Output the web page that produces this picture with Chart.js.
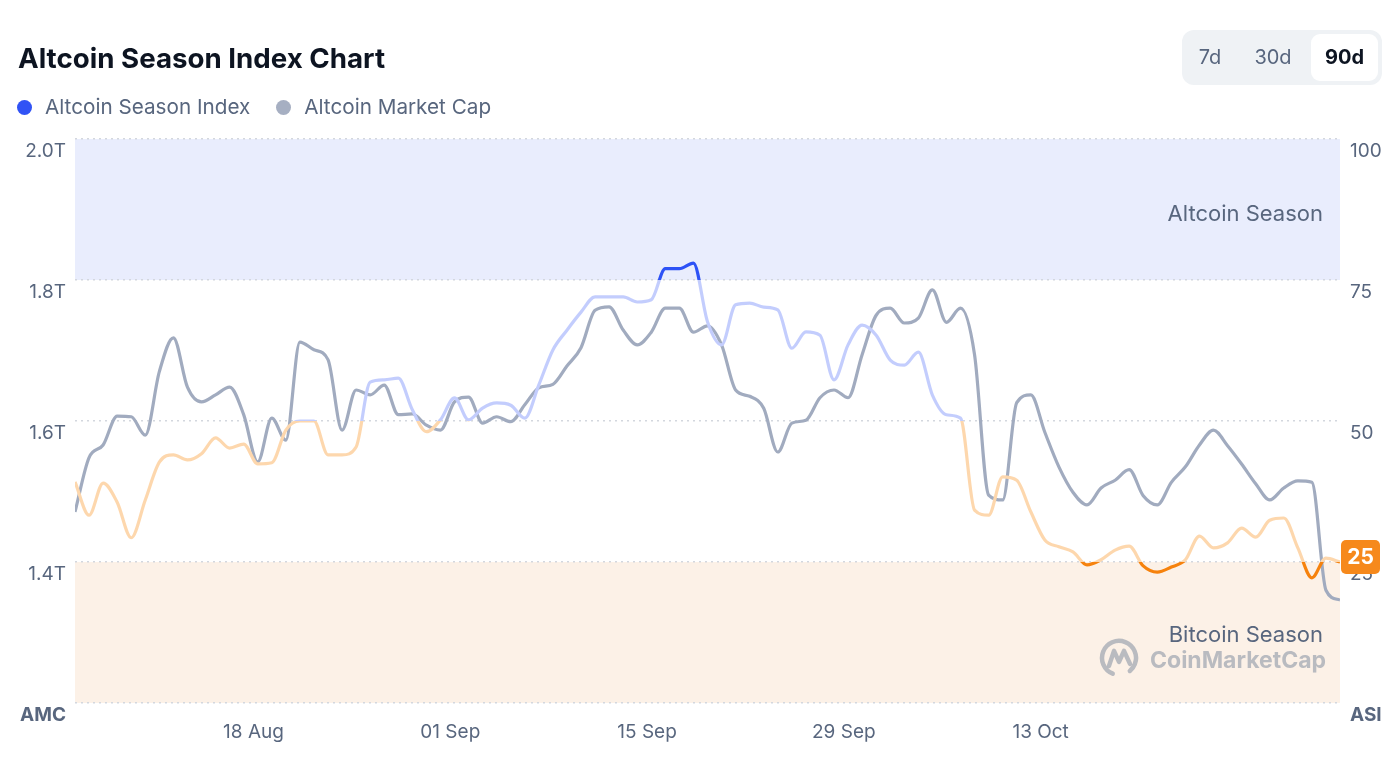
<!DOCTYPE html>
<html>
<head>
<meta charset="utf-8">
<script src="https://cdn.jsdelivr.net/npm/chart.js@4.4.1/dist/chart.umd.min.js"></script>
<style>
  body { margin: 0; background: #fff; font-family: Inter, "Noto Sans", sans-serif; }
  #wrap { position: relative; width: 1400px; height: 780px; overflow: hidden; }
  #chart { position: absolute; left: 0; top: 0; }
  .title { position: absolute; left: 18px; top: 40px; font-size: 27.7px; font-weight: 700; color: #0d1421; line-height: 36px; }
  .legend { position: absolute; left: 17px; top: 94px; display: flex; align-items: center; font-size: 20.7px; color: #58667e; line-height: 26px; }
  .legend .dot { width: 15px; height: 15px; border-radius: 50%; display: inline-block; margin-right: 13px; }
  .legend .item { display: flex; align-items: center; margin-right: 26px; }
  .range { position: absolute; left: 1182px; top: 30px; width: 200px; height: 55px; background: #eff2f5; border-radius: 12px; }
  .range span { position: absolute; top: 0; height: 55px; line-height: 55px; font-size: 20px; color: #58667e; text-align: center; }
  .range .on { top: 4px; height: 47px; line-height: 47px; background: #fff; border-radius: 9px; color: #0d1421; font-weight: 700; }
</style>
</head>
<body>
<div id="wrap">
  <canvas id="chart" width="1400" height="780"></canvas>
  <div class="title">Altcoin Season Index Chart</div>
  <div class="legend">
    <div class="item"><span class="dot" style="background:#3153f5"></span>Altcoin Season Index</div>
    <div class="item"><span class="dot" style="background:#a6afc2"></span>Altcoin Market Cap</div>
  </div>
  <div class="range">
    <span style="left:8px;width:40px">7d</span>
    <span style="left:66px;width:50px">30d</span>
    <span class="on" style="left:129px;width:67px">90d</span>
  </div>
</div>
<script>
// valeurs, un point par jour (90 jours)
const seasonIndex = [
  39.2, 33.3, 39.0, 35.6, 29.3, 36.0, 42.7, 44.0, 43.1, 44.2,
  47.0, 45.2, 45.9, 42.4, 42.6, 48.4, 50.0, 50.0, 44.0, 44.0,
  45.4, 56.9, 57.3, 57.6, 52.0, 48.1, 50.2, 54.1, 50.2, 52.3,
  53.2, 52.8, 50.5, 56.4, 62.6, 66.1, 69.3, 72.0, 72.0, 72.0,
  71.1, 71.5, 77.0, 77.0, 78.0, 67.6, 63.5, 70.6, 70.9, 70.2,
  69.7, 62.9, 65.8, 65.2, 57.3, 63.5, 67.0, 65.2, 60.8, 59.9,
  62.2, 54.6, 51.1, 50.5, 34.2, 33.3, 40.1, 39.5, 33.9, 28.9,
  27.7, 26.8, 24.5, 25.4, 27.1, 27.8, 24.3, 23.2, 24.1, 25.4,
  29.6, 27.5, 28.4, 31.0, 29.4, 32.4, 32.8, 27.5, 22.2, 25.7,
  25
];

// market cap altcoins, en milliers de milliards
const altcoinCap = [
  1.471, 1.548, 1.566, 1.607, 1.606, 1.580, 1.670, 1.718, 1.648, 1.627,
  1.637, 1.648, 1.609, 1.542, 1.604, 1.573, 1.712, 1.701, 1.687, 1.587,
  1.644, 1.637, 1.651, 1.609, 1.610, 1.594, 1.587, 1.627, 1.634, 1.597,
  1.606, 1.599, 1.623, 1.647, 1.652, 1.678, 1.704, 1.757, 1.762, 1.729,
  1.708, 1.726, 1.760, 1.760, 1.726, 1.735, 1.708, 1.644, 1.635, 1.618,
  1.556, 1.597, 1.601, 1.633, 1.644, 1.633, 1.694, 1.750, 1.760, 1.739,
  1.746, 1.786, 1.740, 1.760, 1.694, 1.495, 1.488, 1.626, 1.637, 1.584,
  1.535, 1.499, 1.481, 1.505, 1.516, 1.531, 1.494, 1.481, 1.513, 1.535,
  1.566, 1.587, 1.565, 1.539, 1.511, 1.488, 1.505, 1.515, 1.513, 1.360,
  1.346
];

const dayTicks = [12.7, 26.7, 40.7, 54.7, 68.7];
const dayTickLabels = ['18 Aug', '01 Sep', '15 Sep', '29 Sep', '13 Oct'];

const capTicks = [1.2, 1.4, 1.6, 1.8, 2.0];
const capTickLabels = ['AMC', '1.4T', '1.6T', '1.8T', '2.0T'];
const indexTicks = [0, 25, 50, 75, 100];
const indexTickLabels = ['ASI', '25', '50', '75', '100'];

const seasonBands = [
  { from: 75, to: 100, color: '#e9edfd', label: 'Altcoin Season', labelAt: 86.7 },
  { from: 0, to: 25, color: '#fcf1e7', label: 'Bitcoin Season', labelAt: 11.9 }
];

const TXT = '#58667e';
const DARK_BLUE = '#2d52f6';
const LIGHT_BLUE = '#c3cdfd';
const LIGHT_ORANGE = '#fdd7ad';
const DARK_ORANGE = '#f6820d';

// couleur de la ligne ASI selon la zone (coupure nette à 75 / 50 / 25)
function indexLineColor(context) {
  const chart = context.chart;
  if (!chart.chartArea) return LIGHT_BLUE;
  const y = chart.scales.y2;
  const top = y.getPixelForValue(100);
  const bottom = y.getPixelForValue(0);
  const g = chart.ctx.createLinearGradient(0, top, 0, bottom);
  g.addColorStop(0, DARK_BLUE);
  g.addColorStop(0.25, DARK_BLUE);
  g.addColorStop(0.25, LIGHT_BLUE);
  g.addColorStop(0.5, LIGHT_BLUE);
  g.addColorStop(0.5, LIGHT_ORANGE);
  g.addColorStop(0.75, LIGHT_ORANGE);
  g.addColorStop(0.75, DARK_ORANGE);
  g.addColorStop(1, DARK_ORANGE);
  return g;
}

const bandsPlugin = {
  id: 'bands',
  beforeDraw(chart) {
    const { ctx, chartArea } = chart;
    const y = chart.scales.y2;
    ctx.save();
    seasonBands.forEach(b => {
      const top = y.getPixelForValue(b.to);
      const bottom = y.getPixelForValue(b.from);
      ctx.fillStyle = b.color;
      ctx.fillRect(chartArea.left, top, chartArea.right - chartArea.left, bottom - top);
    });
    ctx.restore();
  },
  beforeDatasetsDraw(chart) {
    const { ctx, chartArea } = chart;
    const y = chart.scales.y2;
    ctx.save();
    ctx.font = '22px Inter, "Noto Sans", sans-serif';
    ctx.fillStyle = TXT;
    ctx.textAlign = 'right';
    ctx.textBaseline = 'middle';
    seasonBands.forEach(b => {
      ctx.fillText(b.label, chartArea.right - 17, y.getPixelForValue(b.labelAt));
    });

    // filigrane CoinMarketCap
    ctx.globalAlpha = 0.75;
    ctx.fillStyle = '#a3a8b3';
    ctx.strokeStyle = '#a3a8b3';
    ctx.font = '700 23px Inter, "Noto Sans", sans-serif';
    ctx.fillText('CoinMarketCap', chartArea.right - 14, y.getPixelForValue(7.5));
    const cx = 1119, cy = y.getPixelForValue(8);
    ctx.lineWidth = 4.5;
    ctx.lineCap = 'round';
    ctx.lineJoin = 'round';
    ctx.beginPath();
    ctx.arc(cx, cy, 17, Math.PI * 0.62, Math.PI * 2.28);
    ctx.stroke();
    ctx.beginPath();
    ctx.moveTo(cx - 10, cy + 8);
    ctx.lineTo(cx - 5, cy - 7);
    ctx.lineTo(cx, cy + 4);
    ctx.lineTo(cx + 5, cy - 7);
    ctx.lineTo(cx + 11, cy + 6);
    ctx.stroke();
    ctx.restore();
  },
  afterDraw(chart) {
    const { ctx, chartArea } = chart;
    const y = chart.scales.y2;
    const last = seasonIndex[seasonIndex.length - 1];
    const py = y.getPixelForValue(last) - 5;
    const x0 = chartArea.right + 1, w = 39, h = 34;
    ctx.save();
    ctx.fillStyle = '#f6891c';
    ctx.beginPath();
    ctx.roundRect(x0, py - h / 2, w, h, 5);
    ctx.fill();
    ctx.fillStyle = '#fff';
    ctx.font = '700 21px Inter, "Noto Sans", sans-serif';
    ctx.textAlign = 'center';
    ctx.textBaseline = 'middle';
    ctx.fillText(String(last), x0 + w / 2, py + 1);
    ctx.restore();
  }
};

const tickFont = { family: 'Inter, "Noto Sans", sans-serif', size: 19 };

new Chart(document.getElementById('chart'), {
  type: 'line',
  data: {
    datasets: [
      {
        label: 'Altcoin Season Index',
        data: seasonIndex.map((v, i) => ({ x: i, y: v })),
        yAxisID: 'y2',
        borderColor: indexLineColor,
        borderWidth: 3.2,
        pointRadius: 0,
        cubicInterpolationMode: 'monotone',
        fill: false
      },
      {
        label: 'Altcoin Market Cap',
        data: altcoinCap.map((v, i) => ({ x: i, y: v })),
        yAxisID: 'y',
        borderColor: '#a1abbf',
        borderWidth: 3.2,
        pointRadius: 0,
        cubicInterpolationMode: 'monotone',
        fill: false
      }
    ]
  },
  options: {
    responsive: false,
    animation: false,
    layout: { padding: { top: 139, left: 0, right: 0, bottom: 0 } },
    plugins: {
      legend: { display: false },
      tooltip: { enabled: false }
    },
    scales: {
      x: {
        type: 'linear',
        min: 0,
        max: seasonIndex.length - 1,
        grid: { display: false, drawTicks: false },
        border: { display: false },
        afterBuildTicks: s => { s.ticks = dayTicks.map(v => ({ value: v })); },
        afterFit: s => { s.height = 77; },
        ticks: {
          autoSkip: false,
          maxRotation: 0,
          padding: 18,
          color: TXT,
          font: tickFont,
          callback: (v, i) => dayTickLabels[i]
        }
      },
      y: {
        position: 'left',
        min: 1.2,
        max: 2.0,
        afterBuildTicks: s => { s.ticks = capTicks.map(v => ({ value: v })); },
        afterFit: s => { s.width = 75; },
        grid: { color: '#d3d7de', lineWidth: 1.5, drawTicks: false },
        border: { display: false, dash: [2, 4] },
        ticks: {
          padding: 9,
          labelOffset: 12,
          color: TXT,
          font: c => (c.index === 0 ? { ...tickFont, weight: '700' } : tickFont),
          callback: (v, i) => capTickLabels[i]
        }
      },
      y2: {
        position: 'right',
        min: 0,
        max: 100,
        afterBuildTicks: s => { s.ticks = indexTicks.map(v => ({ value: v })); },
        afterFit: s => { s.width = 60; },
        grid: { display: false, drawTicks: false },
        border: { display: false },
        ticks: {
          padding: 10,
          labelOffset: 12,
          color: TXT,
          font: c => (c.index === 0 ? { ...tickFont, weight: '700' } : tickFont),
          callback: (v, i) => indexTickLabels[i]
        }
      }
    }
  },
  plugins: [bandsPlugin]
});
</script>
</body>
</html>
